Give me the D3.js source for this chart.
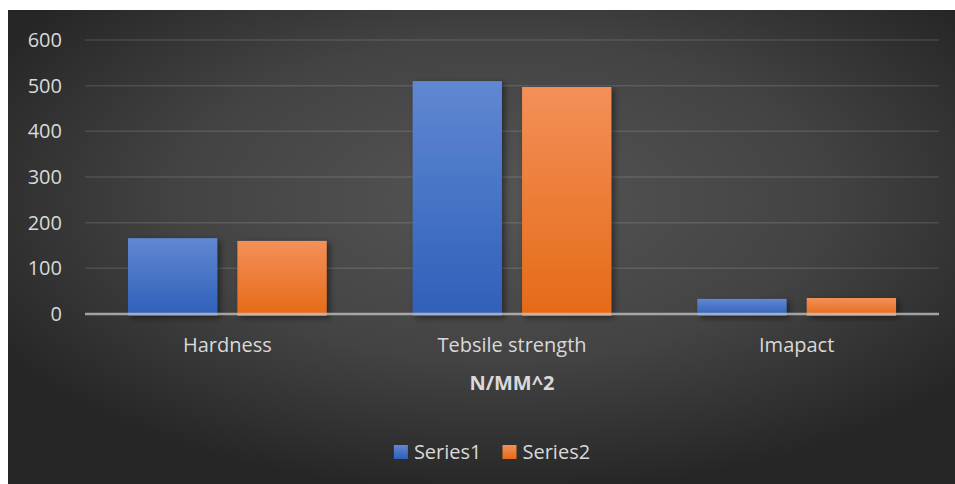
<!DOCTYPE html>
<html>
<head>
<meta charset="utf-8">
<script src="https://cdn.jsdelivr.net/npm/d3@7"></script>
<style>
  html, body { margin: 0; padding: 0; background: #ffffff; }
  svg { display: block; font-family: "Open Sans", "Noto Sans", sans-serif; }
</style>
</head>
<body>
<svg id="chart" width="955" height="484"></svg>
<script>
// Material test results (N/mm^2)
const categories = ["Hardness", "Tebsile strength", "Imapact"];
const seriesNames = ["Series1", "Series2"];
const series1 = [166, 510, 33];
const series2 = [160, 497, 35];
const yTicks = [0, 100, 200, 300, 400, 500, 600];
const axisTitle = "N/MM^2";

const W = 955, H = 484;
const svg = d3.select("#chart");
const defs = svg.append("defs");

// Dark radial background of the chart area
const bg = defs.append("radialGradient").attr("id", "bgGrad")
  .attr("cx", "52%").attr("cy", "40%").attr("r", "62%");
bg.append("stop").attr("offset", "0%").attr("stop-color", "#555555");
bg.append("stop").attr("offset", "55%").attr("stop-color", "#434343");
bg.append("stop").attr("offset", "100%").attr("stop-color", "#262626");

// Vertical gradient fills for each series
const fills = [
  { id: "g1", top: "#6088d2", bottom: "#2f5fba" },
  { id: "g2", top: "#f39058", bottom: "#e56a17" }
];
fills.forEach(f => {
  const g = defs.append("linearGradient").attr("id", f.id)
    .attr("x1", 0).attr("y1", 0).attr("x2", 0).attr("y2", 1);
  g.append("stop").attr("offset", "0%").attr("stop-color", f.top);
  g.append("stop").attr("offset", "100%").attr("stop-color", f.bottom);
});

// Soft shadow under bars
const sh = defs.append("filter").attr("id", "shadow")
  .attr("x", "-20%").attr("y", "-20%").attr("width", "150%").attr("height", "150%");
sh.append("feDropShadow").attr("dx", 3).attr("dy", 2).attr("stdDeviation", 3)
  .attr("flood-color", "#000").attr("flood-opacity", 0.45);

svg.append("rect").attr("x", 8).attr("y", 10).attr("width", W - 8).attr("height", H - 10)
  .attr("fill", "url(#bgGrad)");

const plot = { left: 85, right: 939, top: 40, bottom: 314 };

const y = d3.scaleLinear().domain([0, 600]).range([plot.bottom, plot.top]);
const x0 = d3.scaleBand().domain(categories).range([plot.left, plot.right]);
const bw = x0.bandwidth();
const x1 = d3.scaleBand().domain(seriesNames)
  .range([bw * 0.151, bw * 0.849]).paddingInner(0.184);

const textColor = "#d9d9d9";

// Gridlines
svg.append("g")
  .selectAll("line").data(yTicks.filter(t => t > 0)).join("line")
  .attr("x1", plot.left).attr("x2", plot.right)
  .attr("y1", d => y(d)).attr("y2", d => y(d))
  .attr("stroke", "#ffffff").attr("stroke-opacity", 0.12).attr("stroke-width", 1.5);

// Y axis labels
const yAxis = d3.axisLeft(y).tickValues(yTicks).tickSize(0).tickPadding(0);
const yg = svg.append("g").attr("transform", `translate(${62},0)`).call(yAxis);
yg.select(".domain").remove();
yg.selectAll("text").attr("fill", textColor).attr("font-size", 20)
  .attr("font-family", "'Open Sans', 'Noto Sans', sans-serif");

// Bars
const data = categories.map((c, i) => ({ cat: c, vals: [series1[i], series2[i]] }));
const groups = svg.append("g").selectAll("g").data(data).join("g")
  .attr("transform", d => `translate(${x0(d.cat)},0)`);
groups.selectAll("rect")
  .data(d => d.vals.map((v, k) => ({ name: seriesNames[k], v, k })))
  .join("rect")
  .attr("x", d => x1(d.name))
  .attr("width", x1.bandwidth())
  .attr("y", d => y(d.v))
  .attr("height", d => y(0) - y(d.v) + 2)
  .attr("fill", d => `url(#${fills[d.k].id})`)
  .attr("filter", "url(#shadow)");

// X axis baseline
svg.append("line")
  .attr("x1", plot.left).attr("x2", plot.right)
  .attr("y1", y(0)).attr("y2", y(0))
  .attr("stroke", "#c8c8c8").attr("stroke-opacity", 0.75).attr("stroke-width", 2.5);

// Category labels
const xAxis = d3.axisBottom(x0).tickSize(0).tickPadding(0);
const xg = svg.append("g").attr("transform", `translate(0,${plot.bottom + 24})`).call(xAxis);
xg.select(".domain").remove();
xg.selectAll("text").attr("fill", textColor).attr("font-size", 20)
  .attr("font-family", "'Open Sans', 'Noto Sans', sans-serif");

// Axis title
svg.append("text")
  .attr("x", (plot.left + plot.right) / 2 + 0).attr("y", 390)
  .attr("text-anchor", "middle").attr("fill", textColor)
  .attr("font-size", 20).attr("font-weight", "bold")
  .text(axisTitle);

// Legend
const legendColors = ["#4472c4", "#ed7d31"];
const legend = svg.append("g");
const items = legend.selectAll("g").data(seriesNames).join("g");
items.append("rect").attr("width", 14).attr("height", 14).attr("y", 445)
  .attr("fill", (d, i) => `url(#${fills[i].id})`);
items.append("text").attr("x", 20).attr("y", 459)
  .attr("fill", textColor).attr("font-size", 20).text(d => d);
let offset = 0;
items.each(function () {
  const wdt = this.getBBox().width;
  d3.select(this).attr("data-w", wdt);
});
const widths = items.nodes().map(n => +n.getAttribute("data-w"));
const gap = 21;
const total = d3.sum(widths) + gap * (widths.length - 1);
let cur = 492 - total / 2;
items.attr("transform", (d, i) => {
  const t = `translate(${cur},0)`;
  cur += widths[i] + gap;
  return t;
});
</script>
</body>
</html>
